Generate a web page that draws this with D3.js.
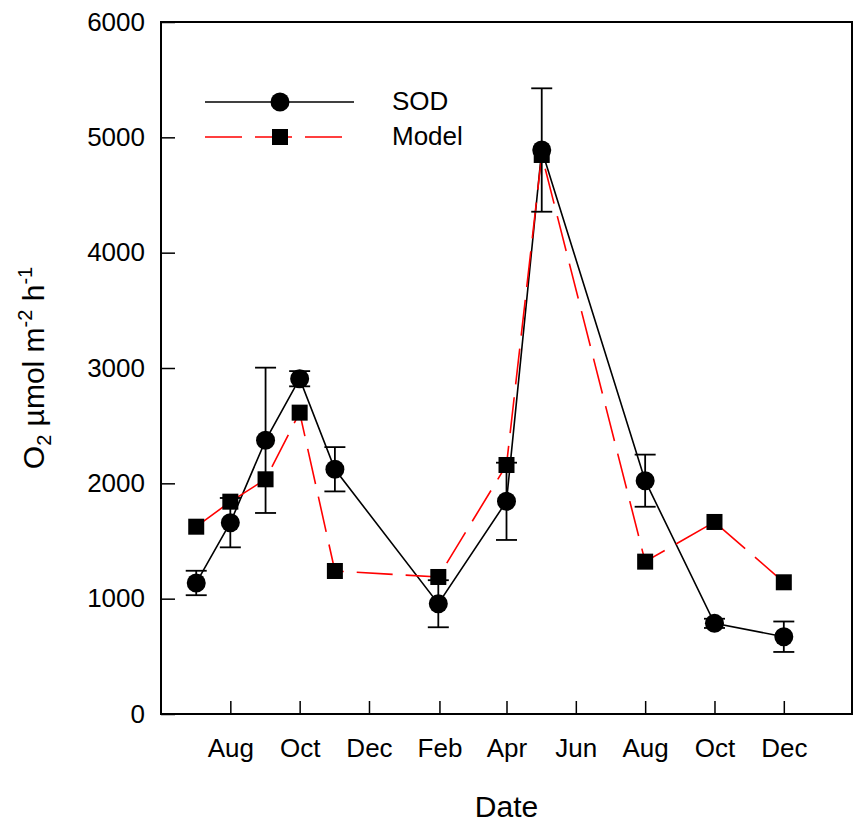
<!DOCTYPE html>
<html>
<head>
<meta charset="utf-8">
<script src="https://cdn.jsdelivr.net/npm/d3@7"></script>
<style>
  body { margin: 0; background: #fff; }
  text { font-family: "Liberation Sans", Arial, sans-serif; fill: #000; }
</style>
</head>
<body>
<div id="chart"></div>
<script>
const dates = ['2010-07-02', '2010-08-01', '2010-09-01', '2010-10-01', '2010-11-01',
  '2011-01-31', '2011-04-01', '2011-05-02', '2011-08-01', '2011-10-01', '2011-12-01'];
const sod = [1136, 1659, 2373, 2907, 2122, 956, 1844, 4890, 2023, 786, 670];
const sodErr = [106, 214, 630, 66, 192, 204, 335, 535, 226, 40, 132];
const model = [1624, 1841, 2035, 2613, 1240, 1188, 2159, 4847, 1321, 1665, 1142];
const yTicks = [0, 1000, 2000, 3000, 4000, 5000, 6000];
const xTicks = ['2010-08-01', '2010-10-01', '2010-12-01', '2011-02-01', '2011-04-01',
  '2011-06-01', '2011-08-01', '2011-10-01', '2011-12-01'];
const seriesNames = ['SOD', 'Model'];

const parse = d3.timeParse('%Y-%m-%d');
const W = 857, H = 824;
const margin = { top: 22, right: 5, bottom: 110, left: 161 };
const width = W - margin.left - margin.right;
const height = H - margin.top - margin.bottom;
const font = '"Liberation Sans", Arial, sans-serif';

const svg = d3.select('#chart').append('svg')
  .attr('width', W).attr('height', H);
const g = svg.append('g')
  .attr('transform', `translate(${margin.left},${margin.top})`);

const x = d3.scaleTime()
  .domain([parse('2010-06-01'), parse('2012-01-30')])
  .range([0, width]);
const y = d3.scaleLinear().domain([0, 6000]).range([height, 0]);

// frame
g.append('rect')
  .attr('width', width).attr('height', height)
  .attr('fill', 'none').attr('stroke', '#000').attr('stroke-width', 2);

// X axis
const xAxis = g.append('g')
  .attr('transform', `translate(0,${height})`)
  .call(d3.axisBottom(x)
    .tickValues(xTicks.map(parse))
    .tickFormat(d3.timeFormat('%b'))
    .tickSizeInner(-13).tickSizeOuter(0).tickPadding(25));
xAxis.select('.domain').remove();
xAxis.selectAll('line').attr('stroke', '#000').attr('stroke-width', 1.5);
xAxis.selectAll('text').attr('font-size', 26).attr('font-family', font);

// Y axis
const yAxis = g.append('g')
  .call(d3.axisLeft(y)
    .tickValues(yTicks)
    .tickFormat(d3.format('d'))
    .tickSizeInner(-14).tickSizeOuter(0).tickPadding(16));
yAxis.select('.domain').remove();
yAxis.selectAll('line').attr('stroke', '#000').attr('stroke-width', 1.5);
yAxis.selectAll('text').attr('font-size', 26).attr('font-family', font);

const data = dates.map((d, i) => ({
  date: parse(d), sod: sod[i], err: sodErr[i], model: model[i]
}));

// SOD line
g.append('path')
  .datum(data)
  .attr('fill', 'none').attr('stroke', '#000').attr('stroke-width', 1.6)
  .attr('d', d3.line().x(d => x(d.date)).y(d => y(d.sod)));

// Model line
g.append('path')
  .datum(data)
  .attr('fill', 'none').attr('stroke', '#ff0000').attr('stroke-width', 1.6)
  .attr('stroke-dasharray', '36,13')
  .attr('d', d3.line().x(d => x(d.date)).y(d => y(d.model)));

// error bars
const eb = g.append('g').attr('stroke', '#000').attr('stroke-width', 1.8);
data.forEach(d => {
  const cx = x(d.date);
  eb.append('line').attr('x1', cx).attr('x2', cx)
    .attr('y1', y(d.sod - d.err)).attr('y2', y(d.sod + d.err));
  [d.sod - d.err, d.sod + d.err].forEach(v => {
    eb.append('line').attr('x1', cx - 10.5).attr('x2', cx + 10.5)
      .attr('y1', y(v)).attr('y2', y(v));
  });
});

// SOD markers
g.selectAll('circle.sod')
  .data(data).enter().append('circle')
  .attr('class', 'sod')
  .attr('cx', d => x(d.date)).attr('cy', d => y(d.sod))
  .attr('r', 9.5).attr('fill', '#000');

// Model markers
g.selectAll('rect.model')
  .data(data).enter().append('rect')
  .attr('class', 'model')
  .attr('x', d => x(d.date) - 8).attr('y', d => y(d.model) - 8)
  .attr('width', 16).attr('height', 16).attr('fill', '#000');

// legend
const leg = svg.append('g');
leg.append('line').attr('x1', 205).attr('x2', 354).attr('y1', 102).attr('y2', 102)
  .attr('stroke', '#000').attr('stroke-width', 1.6);
leg.append('circle').attr('cx', 280).attr('cy', 102).attr('r', 9.5).attr('fill', '#000');
leg.append('line').attr('x1', 205).attr('x2', 354).attr('y1', 137).attr('y2', 137)
  .attr('stroke', '#ff0000').attr('stroke-width', 1.6).attr('stroke-dasharray', '37,13');
leg.append('rect').attr('x', 272).attr('y', 129).attr('width', 16).attr('height', 16).attr('fill', '#000');
leg.selectAll('text.leg')
  .data(seriesNames).enter().append('text')
  .attr('x', 392).attr('y', (d, i) => 110 + i * 35)
  .attr('font-size', 26)
  .text(d => d);

// axis titles
svg.append('text')
  .attr('x', margin.left + width / 2).attr('y', 817)
  .attr('text-anchor', 'middle').attr('font-size', 30)
  .text('Date');

const yl = svg.append('text')
  .attr('transform', `translate(44,${margin.top + height / 2}) rotate(-90)`)
  .attr('text-anchor', 'middle').attr('font-size', 30);
yl.append('tspan').text('O');
yl.append('tspan').attr('font-size', 20).attr('dy', 7).text('2');
yl.append('tspan').attr('dy', -7).text(' \u00b5mol m');
yl.append('tspan').attr('font-size', 20).attr('dy', -12).text('-2');
yl.append('tspan').attr('dy', 12).text(' h');
yl.append('tspan').attr('font-size', 20).attr('dy', -12).text('-1');
</script>
</body>
</html>
